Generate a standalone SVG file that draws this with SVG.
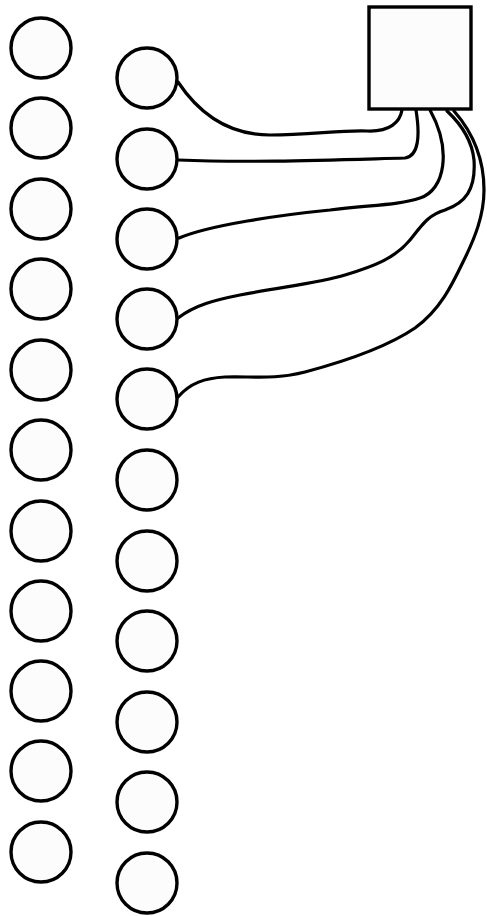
<svg xmlns="http://www.w3.org/2000/svg" width="487" height="916" viewBox="0 0 487 916">
<style>
.n{fill:#fcfcfc;stroke:#000;stroke-width:3.4}
.c{fill:none;stroke:#000;stroke-width:3.2;stroke-linecap:round}
</style>
<rect width="487" height="916" fill="#fff"/>
<g id="left">
<circle id="l1" class="n" cx="41" cy="48" r="30"/>
<circle id="l2" class="n" cx="41" cy="128" r="30"/>
<circle id="l3" class="n" cx="41" cy="209" r="30"/>
<circle id="l4" class="n" cx="41" cy="289" r="30"/>
<circle id="l5" class="n" cx="41" cy="370" r="30"/>
<circle id="l6" class="n" cx="41" cy="450" r="30"/>
<circle id="l7" class="n" cx="41" cy="531" r="30"/>
<circle id="l8" class="n" cx="41" cy="611" r="30"/>
<circle id="l9" class="n" cx="41" cy="691" r="30"/>
<circle id="l10" class="n" cx="41" cy="771" r="30"/>
<circle id="l11" class="n" cx="41" cy="852" r="30"/>
</g>
<g id="right">
<circle id="r1" class="n" cx="147" cy="78" r="30"/>
<circle id="r2" class="n" cx="147" cy="159" r="30"/>
<circle id="r3" class="n" cx="147" cy="239" r="30"/>
<circle id="r4" class="n" cx="147" cy="319" r="30"/>
<circle id="r5" class="n" cx="147" cy="399" r="30"/>
<circle id="r6" class="n" cx="147" cy="480" r="30"/>
<circle id="r7" class="n" cx="147" cy="561" r="30"/>
<circle id="r8" class="n" cx="147" cy="641" r="30"/>
<circle id="r9" class="n" cx="147" cy="722" r="30"/>
<circle id="r10" class="n" cx="147" cy="802" r="30"/>
<circle id="r11" class="n" cx="147" cy="883" r="30"/>
</g>
<g id="box">
<rect class="n" x="369" y="7" width="102" height="102"/>
</g>
<g id="connectors">
<path class="c" d="M178,82 C200,115 230,135 270,135 C310,135 340,130 367,131 C390,132 400,122 402,110"/>
<path class="c" d="M178,160 C250,163 330,160 405,158 C419,156 420,135 416,110"/>
<path class="c" d="M179,238 C210,225 280,215 330,210 C370,205 400,205 420,198 C445,190 452,150 430,110"/>
<path class="c" d="M178,318 C195,305 215,300 240,295 C280,287 320,283 345,275 C375,266 395,258 410,240 C422,225 428,215 445,210 C465,203 476,190 474,160 C472,140 462,125 447,111"/>
<path class="c" d="M178,397 C190,383 205,378 225,377 C250,376 275,380 305,372 C350,360 390,345 415,328 C440,310 452,285 463,262 C475,238 484,215 484,190 C484,160 475,135 454,111"/>
</g>
</svg>
